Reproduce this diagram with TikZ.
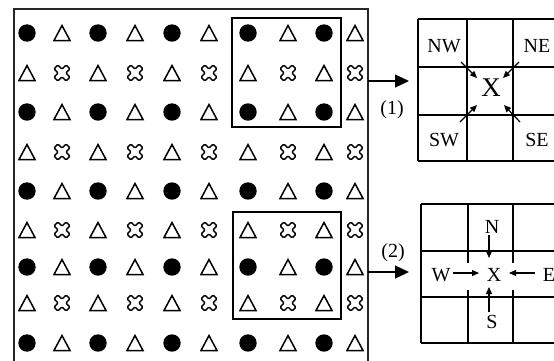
\documentclass[tikz,border=0pt]{standalone}
\usepackage{fontspec}
\setmainfont{Liberation Serif}
\usetikzlibrary{arrows.meta}
\begin{document}
\begin{tikzpicture}[x=1pt,y=-1pt,
  frame/.style={line width=1.6pt, draw=black!85},
  sub/.style={line width=1.3pt},
  gridline/.style={line width=1.4pt},
  bigarrow/.style={line width=1.3pt,-{Triangle[length=14pt,width=13pt]}},
  smallarrow/.style={line width=1.2pt,-{Triangle[length=7pt,width=6pt]}},
  lbl/.style={font=\fontsize{20}{23}\selectfont, inner sep=0pt},
  biglbl/.style={font=\fontsize{27}{31}\selectfont, inner sep=0pt},
  tri/.style={line width=1.5pt, line join=miter},
  crs/.style={line width=1.4pt, rounded corners=1.2pt}
]
\useasboundingbox (0,0) rectangle (554,360);
\fill[white] (0,0) rectangle (554,360);

% symbol lattice
\foreach \y [count=\i] in {33,73,112,152,191,230,267,303,343} {
  \foreach \x [count=\j] in {27,62,98,135,172,209,248,288,324,355} {
    \pgfmathtruncatemacro\kind{mod(\i,2)*2+mod(\j,2)}
    \ifcase\kind
      \draw[crs,shift={(\x,\y)},rotate=45] (-2.7,-8.6) -- (2.7,-8.6) -- (2.7,-2.7) -- (8.6,-2.7) -- (8.6,2.7) -- (2.7,2.7) -- (2.7,8.6) -- (-2.7,8.6) -- (-2.7,2.7) -- (-8.6,2.7) -- (-8.6,-2.7) -- (-2.7,-2.7) -- cycle;
    \or
      \draw[tri] (\x-8,\y+7.5) -- (\x+8,\y+7.5) -- (\x,\y-7.5) -- cycle;
    \or
      \draw[tri] (\x-8,\y+7.5) -- (\x+8,\y+7.5) -- (\x,\y-7.5) -- cycle;
    \or
      \fill (\x,\y) circle[radius=8.7pt];
    \fi
  }
}

% frames
\draw[frame] (14,9) rectangle (368,363);
\draw[sub] (232,18) rectangle (341,127);
\draw[sub] (233,212) rectangle (341,319);

% connecting arrows
\coordinate (a1s) at (368,81);
\coordinate (a1e) at (409,81);
\coordinate (a2s) at (368,272);
\coordinate (a2e) at (409,272);
\draw[bigarrow] (a1s) -- (a1e);
\draw[bigarrow] (a2s) -- (a2e);
\node[lbl] (l1) at (392,110) {(1)};
\node[lbl] (l2) at (393,253) {(2)};

% grid 1
\foreach \yy in {19,67,115,161} \draw[gridline] (418,\yy) -- (560,\yy);
\foreach \xx in {418,467,513} \draw[gridline] (\xx,19) -- (\xx,161);
\node[lbl] (nw) at (444,46) {NW};
\node[lbl] (ne) at (537,46) {NE};
\node[lbl] (sw) at (444,140) {SW};
\node[lbl] (se) at (537,140) {SE};
\node[biglbl] (x1) at (491,88) {X};
\coordinate (nwa) at (461,62);  \coordinate (nwb) at (477,78);
\coordinate (nea) at (519,62);  \coordinate (neb) at (503,78);
\coordinate (swa) at (460,122); \coordinate (swb) at (477,105);
\coordinate (sea) at (520,122); \coordinate (seb) at (504,105);
\draw[smallarrow] (nwa) -- (nwb);
\draw[smallarrow] (nea) -- (neb);
\draw[smallarrow] (swa) -- (swb);
\draw[smallarrow] (sea) -- (seb);

% grid 2
\foreach \yy in {204,251,297,343} \draw[gridline] (421,\yy) -- (560,\yy);
\draw[gridline] (421,204) -- (421,343);
\foreach \xx in {468,513} {
  \draw[gridline] (\xx,204) -- (\xx,263);
  \draw[gridline] (\xx,290) -- (\xx,343);
}
\node[lbl] (n) at (492,227) {N};
\node[lbl] (s) at (492,322) {S};
\node[lbl] (w) at (441,275) {W};
\node[lbl] (e) at (549,275) {E};
\node[lbl] (x2) at (494,275) {X};
\coordinate (na) at (489,235); \coordinate (nb) at (489,258);
\coordinate (sa) at (489,312); \coordinate (sb) at (489,287);
\coordinate (wa) at (453,273); \coordinate (wb) at (479,273);
\coordinate (ea) at (535,273); \coordinate (eb) at (509,273);
\draw[smallarrow] (na) -- (nb);
\draw[smallarrow] (sa) -- (sb);
\draw[smallarrow] (wa) -- (wb);
\draw[smallarrow] (ea) -- (eb);
\end{tikzpicture}
\end{document}
